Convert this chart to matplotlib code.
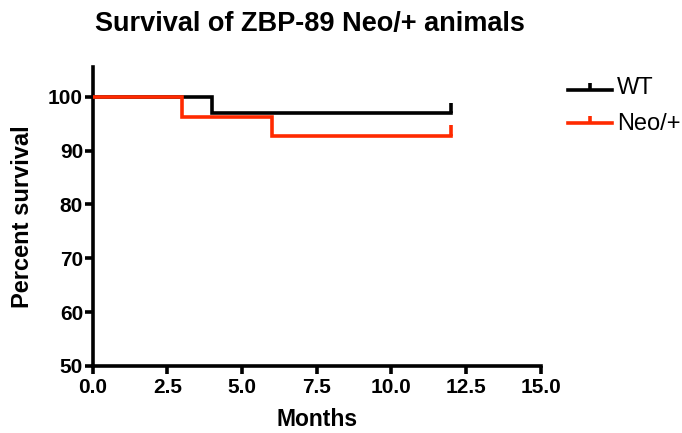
import matplotlib
matplotlib.use("Agg")
import matplotlib.pyplot as plt
from matplotlib.lines import Line2D

plt.rcParams['font.family'] = ['Liberation Sans', 'DejaVu Sans']

wt_t = [0, 4, 12]
wt_s = [100, 96.9, 96.9]
neo_t = [0, 3, 6, 12]
neo_s = [100, 96.3, 92.7, 92.7]
xticks = [0.0, 2.5, 5.0, 7.5, 10.0, 12.5, 15.0]
yticks = [50, 60, 70, 80, 90, 100]

fig = plt.figure(figsize=(6.82, 4.33), dpi=100)
ax = fig.add_axes([0.136, 0.155, 0.657, 0.69])
lw = 2.6
red = '#ff2a00'
ax.step(wt_t, wt_s, where='post', color='black', lw=lw, solid_joinstyle='miter', zorder=2)
ax.step(neo_t, neo_s, where='post', color=red, lw=lw, solid_joinstyle='miter', zorder=3)
# censor marks
ax.plot([wt_t[-1], wt_t[-1]], [wt_s[-1], wt_s[-1] + 2.0], color='black', lw=lw, solid_capstyle='butt')
ax.plot([neo_t[-1], neo_t[-1]], [neo_s[-1], neo_s[-1] + 2.0], color=red, lw=lw, solid_capstyle='butt')

ax.set_xlim(0, 15)
ax.set_ylim(50, 105.5)
ax.set_xticks(xticks)
ax.set_xticklabels([f'{v:.1f}' for v in xticks])
ax.set_yticks(yticks)
for s in ['top', 'right']:
    ax.spines[s].set_visible(False)
for s in ['left', 'bottom']:
    ax.spines[s].set_linewidth(2.6)
ax.tick_params(width=2.6, length=6, direction='out', labelsize=15, pad=1)
ax.tick_params(axis='x', pad=3)
for lab in ax.get_xticklabels() + ax.get_yticklabels():
    lab.set_fontweight('bold')
ax.set_xlabel('Months', fontsize=16.5, fontweight='bold', labelpad=8)
ax.set_ylabel('Percent survival', fontsize=17, fontweight='bold', labelpad=10)
fig.text(0.455, 0.945, 'Survival of ZBP-89 Neo/+ animals', ha='center', va='center',
         fontsize=19.5, fontweight='bold')

# legend drawn manually
for (y, ty, c, name) in [(0.792, 0.797, 'black', 'WT'), (0.716, 0.713, red, 'Neo/+')]:
    fig.add_artist(Line2D([0.833, 0.897], [y, y], color=c, lw=lw, transform=fig.transFigure))
    fig.add_artist(Line2D([0.865, 0.865], [y, y + 0.016], color=c, lw=lw, transform=fig.transFigure,
                          solid_capstyle='butt'))
    fig.text(0.905, ty, name, fontsize=17, va='center', ha='left')

fig.savefig('out.png', dpi=100)
